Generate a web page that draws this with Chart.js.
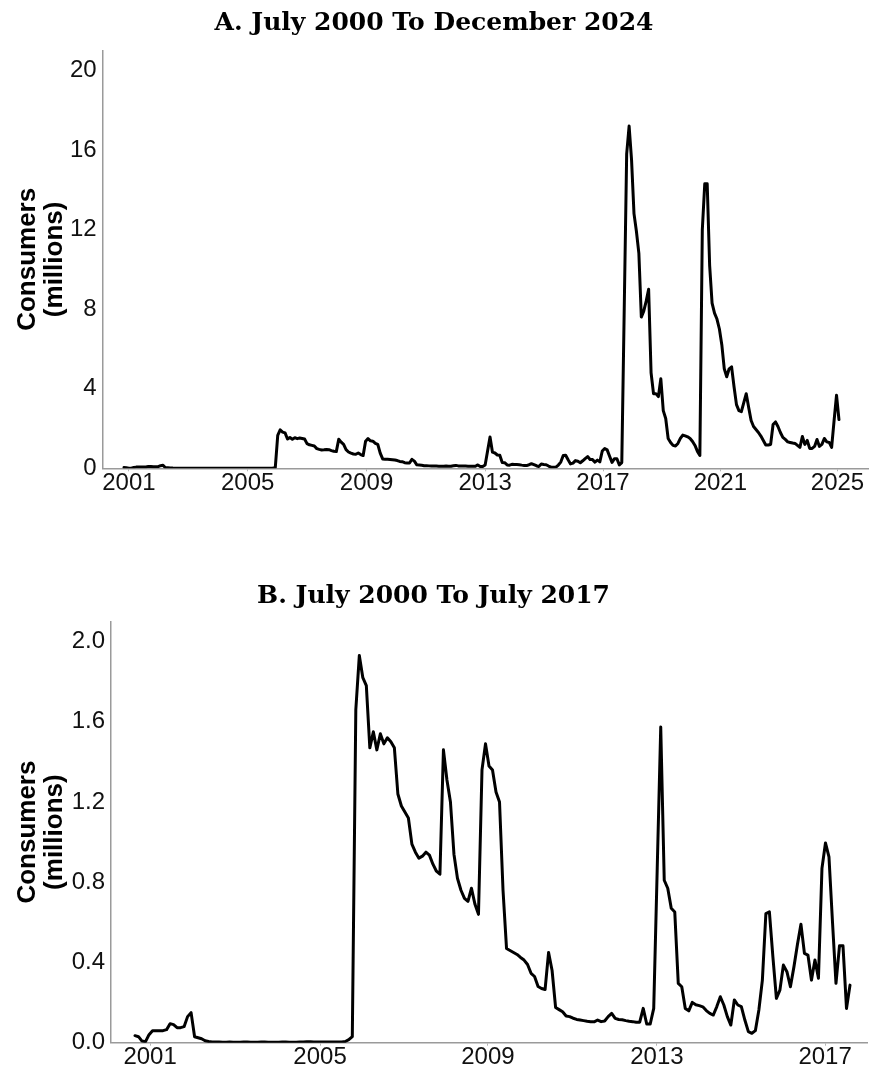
<!DOCTYPE html>
<html>
<head>
<meta charset="utf-8">
<title>Consumers (millions)</title>
<script src="https://cdn.jsdelivr.net/npm/chart.js@4.4.1/dist/chart.umd.min.js"></script>
<style>
  html, body { margin: 0; padding: 0; background: #fff; }
  body { width: 873px; height: 1072px; position: relative; overflow: hidden; }
  .panel { position: absolute; left: 0; width: 873px; }
  #panelA { top: 0; height: 540px; }
  #panelB { top: 540px; height: 532px; }
  canvas { display: block; }
</style>
</head>
<body>
<div class="panel" id="panelA"><canvas id="chartA" width="873" height="540"></canvas></div>
<div class="panel" id="panelB"><canvas id="chartB" width="873" height="532"></canvas></div>
<script>
// monthly consumers in millions, July 2000 .. July 2017 (x = month index, 0 = July 2000)
const consumers2000to2017 = [
  0.035, 0.03, 0.008, 0.005, 0.04, 0.06, 0.06, 0.06, 0.06, 0.065, 0.095, 0.09,
  0.075, 0.075, 0.08, 0.13, 0.15, 0.03, 0.025, 0.02, 0.01, 0.006, 0.004,
  0.003, 0.003, 0.002, 0.002, 0.003, 0.002, 0.002, 0.002, 0.003, 0.003,
  0.002, 0.002, 0.002, 0.003, 0.003, 0.002, 0.002, 0.002, 0.002, 0.003,
  0.003, 0.002, 0.002, 0.002, 0.003, 0.004, 0.005, 0.005, 0.004, 0.003,
  0.003, 0.003, 0.004, 0.003, 0.003, 0.003, 0.004, 0.006,
  0.015, 0.03, 1.66, 1.93, 1.82, 1.78, 1.47, 1.55, 1.46, 1.54, 1.49, 1.52,
  1.5, 1.47, 1.24, 1.18, 1.15, 1.12, 0.99, 0.95, 0.92, 0.93, 0.95, 0.935,
  0.89, 0.855, 0.84, 1.46, 1.31, 1.2, 0.94, 0.82, 0.76, 0.72, 0.705, 0.77,
  0.69, 0.64, 1.36, 1.49, 1.38, 1.36, 1.25, 1.2, 0.76, 0.47, 0.46, 0.45,
  0.44, 0.425, 0.412, 0.39, 0.346, 0.33, 0.28, 0.27, 0.265, 0.45, 0.36, 0.176,
  0.165, 0.154, 0.133, 0.13, 0.122, 0.116, 0.113, 0.11, 0.107, 0.105, 0.104, 0.113,
  0.105, 0.108, 0.13, 0.146, 0.121, 0.116, 0.114, 0.11, 0.107, 0.105, 0.102, 0.102,
  0.171, 0.093, 0.093, 0.171, 0.87, 1.574, 0.81, 0.77, 0.67, 0.652, 0.296, 0.279,
  0.171, 0.159, 0.201, 0.189, 0.185, 0.179, 0.16, 0.146, 0.138, 0.18, 0.229, 0.188,
  0.13, 0.088, 0.213, 0.188, 0.18, 0.113, 0.055, 0.047, 0.06, 0.163, 0.312, 0.644,
  0.652, 0.428, 0.221, 0.262, 0.387, 0.354, 0.279, 0.378, 0.49, 0.591, 0.445, 0.437,
  0.312, 0.412, 0.321, 0.869, 0.996, 0.926, 0.603, 0.296, 0.483, 0.483, 0.171, 0.287
];

// August 2017 .. December 2024
const consumers2017to2024 = [
  8.0, 15.8, 17.2, 15.5, 12.8, 11.9, 10.8, 7.6, 7.9, 8.4, 9.0, 4.8,
  3.75, 3.75, 3.6, 4.5, 2.9, 2.5, 1.5, 1.3, 1.15, 1.12, 1.25, 1.5,
  1.67, 1.63, 1.58, 1.5, 1.35, 1.15, 0.85, 0.65, 12.0, 14.3, 14.3, 10.2,
  8.3, 7.8, 7.5, 7.0, 6.2, 5.0, 4.6, 5.0, 5.1, 4.1, 3.2, 2.9,
  2.85, 3.3, 3.75, 3.05, 2.4, 2.1, 1.95, 1.8, 1.62, 1.4, 1.17, 1.17,
  1.2, 2.2, 2.33, 2.1, 1.8, 1.55, 1.45, 1.33, 1.3, 1.27, 1.25, 1.15,
  1.05, 1.6, 1.2, 1.4, 1.0, 1.0, 1.1, 1.45, 1.1, 1.2, 1.5, 1.33,
  1.3, 1.05, 2.4, 3.67, 2.45
];

// year labels and the month index each one sits on
const yearLabelsA = ['2001', '2005', '2009', '2013', '2017', '2021', '2025'];
const yearTicksA = [2, 50.7, 99.4, 148, 196.3, 244.4, 292.4];
const yearLabelsB = ['2001', '2005', '2009', '2013', '2017'];
const yearTicksB = [4.3, 52.8, 100.7, 148.9, 196.9];

const valueTicksA = [0, 4, 8, 12, 16, 20];
const valueTicksB = [0, 0.4, 0.8, 1.2, 1.6, 2.0];

const tickFont = { family: 'Liberation Sans', size: 24, lineHeight: 1.0 };
const axisColor = '#9a9a9a';

function makeChart(id, cfg) {
  const points = cfg.values.map((v, i) => ({ x: i, y: v }));
  return new Chart(document.getElementById(id), {
    type: 'line',
    data: {
      datasets: [{
        data: points,
        borderColor: '#000',
        borderWidth: 3,
        borderJoinStyle: 'round',
        borderCapStyle: 'round',
        pointRadius: 0,
        tension: 0,
        fill: false
      }]
    },
    options: {
      responsive: false,
      animation: false,
      devicePixelRatio: 1,
      layout: { padding: { top: 0, right: cfg.rightPad, bottom: 0, left: 0 } },
      plugins: {
        legend: { display: false },
        tooltip: { enabled: false },
        title: {
          display: true,
          text: cfg.title,
          color: '#000',
          font: { family: 'DejaVu Serif', weight: 'bold', size: 25, lineHeight: 1.2 },
          padding: cfg.titlePad
        }
      },
      scales: {
        x: {
          type: 'linear',
          min: cfg.xMin,
          max: cfg.xMax,
          afterFit: (s) => { s.height = cfg.xAxisHeight; },
          afterBuildTicks: (s) => { s.ticks = cfg.xTicks.map(v => ({ value: v })); },
          grid: { display: true, drawOnChartArea: false, drawTicks: true, tickLength: 3, color: '#b5b5b5' },
          border: { display: true, color: axisColor, width: 1.5 },
          ticks: {
            autoSkip: false,
            maxRotation: 0,
            padding: 0,
            color: '#111',
            font: tickFont,
            callback: (v, i) => cfg.xLabels[i]
          }
        },
        y: {
          min: 0,
          max: cfg.yMax,
          afterFit: (s) => { s.width = cfg.yAxisWidth; },
          afterBuildTicks: (s) => { s.ticks = cfg.yTicks.map(v => ({ value: v })); },
          grid: { display: false, drawTicks: false },
          border: { display: true, color: axisColor, width: 1.5 },
          ticks: {
            padding: 6,
            color: '#111',
            font: tickFont,
            callback: cfg.yFormat
          },
          title: {
            display: true,
            text: ['Consumers', '(millions)'],
            color: '#000',
            font: { family: 'Liberation Sans', weight: 'bold', size: 26, lineHeight: 1.05 },
            padding: { top: 14.3, bottom: 0 }
          }
        }
      }
    }
  });
}

makeChart('chartA', {
  title: 'A. July 2000 To December 2024',
  titlePad: { top: 8, bottom: 12.4 },
  values: consumers2000to2017.concat(consumers2017to2024),
  xMin: -8.73, xMax: 304.9,
  xTicks: yearTicksA, xLabels: yearLabelsA,
  yMax: 21, yTicks: valueTicksA,
  yFormat: (v) => String(v),
  yAxisWidth: 102.7,
  xAxisHeight: 71.7,
  rightPad: 5
});

makeChart('chartB', {
  title: 'B. July 2000 To July 2017',
  titlePad: { top: 41.7, bottom: 9.8 },
  values: consumers2000to2017,
  xMin: -6.85, xMax: 208.85,
  xTicks: yearTicksB, xLabels: yearLabelsB,
  yMax: 2.1, yTicks: valueTicksB,
  yFormat: (v) => v.toFixed(1),
  yAxisWidth: 111,
  xAxisHeight: 29.3,
  rightPad: 6
});
</script>
</body>
</html>
